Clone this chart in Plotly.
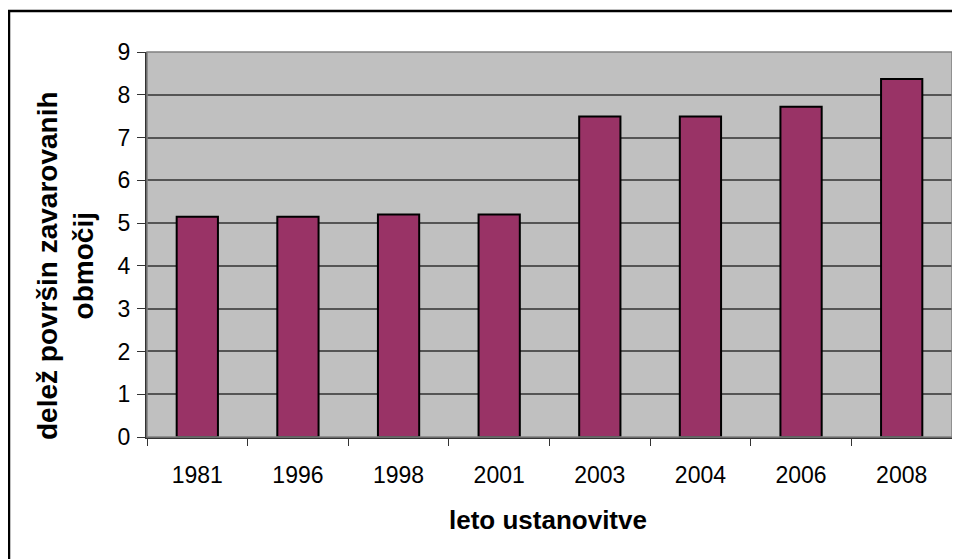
import plotly.graph_objects as go

# ── Data ─────────────────────────────────────────────────────────────────────
years  = ["1981", "1996", "1998", "2001", "2003", "2004", "2006", "2008"]
shares = [5.15, 5.15, 5.2, 5.2, 7.49, 7.49, 7.72, 8.37]
y_ticks = [0, 1, 2, 3, 4, 5, 6, 7, 8, 9]

x_title = "leto ustanovitve"
y_title = "delež površin zavarovanih<br>območij"

# ── Style ────────────────────────────────────────────────────────────────────
_BAR   = "#993366"
_PLOT  = "#C0C0C0"
_GRID  = "#555555"
_FONT  = "Liberation Sans, Arial, sans-serif"

# page body has an 8px margin, so screen px = figure px + 8
_OFF = 8
W, H = 960, 559
L, T = 147 - _OFF, 52 - _OFF
R = W - (952 - _OFF)
B = H - (437 - _OFF)
pw, ph = W - L - R, H - T - B


def px_x(sx):
    return (sx - _OFF - L) / pw


def px_y(sy):
    return (H - B - (sy - _OFF)) / ph


fig = go.Figure(go.Bar(
    x=years,
    y=shares,
    marker=dict(color=_BAR, line=dict(color="black", width=2)),
    hovertemplate="%{x}: %{y}<extra></extra>",
))

fig.update_layout(
    width=W,
    height=H,
    margin=dict(l=L, r=R, t=T, b=B),
    paper_bgcolor="white",
    plot_bgcolor=_PLOT,
    font=dict(family=_FONT, color="black", size=23),
    bargap=0.59,
    showlegend=False,
    xaxis=dict(
        type="category",
        tickson="boundaries",
        ticks="outside",
        ticklen=7,
        tickcolor="#333333",
        tickwidth=1,
        showline=True,
        linecolor="#333333",
        linewidth=2,
        showgrid=False,
        tickfont=dict(size=23),
        ticklabelstandoff=16,
    ),
    yaxis=dict(
        range=[0, 9],
        tickvals=y_ticks,
        ticks="outside",
        ticklen=8,
        tickcolor="#333333",
        tickwidth=1,
        showline=True,
        linecolor="#333333",
        linewidth=2,
        gridcolor=_GRID,
        gridwidth=1.5,
        zeroline=False,
        tickfont=dict(size=23),
        ticklabelstandoff=2,
    ),
    shapes=[
        # plot area border
        dict(type="rect", xref="paper", yref="paper", x0=0, x1=1, y0=0, y1=1,
             line=dict(color="#808080", width=1.5), layer="above"),
        # outer chart border (right and bottom edges fall outside the view)
        dict(type="rect", xref="paper", yref="paper",
             x0=px_x(9), x1=px_x(975), y0=px_y(575), y1=px_y(11),
             line=dict(color="black", width=2.5)),
    ],
    annotations=[
        dict(text=f"<b>{x_title}</b>", xref="paper", yref="paper",
             x=px_x(548), y=px_y(520), xanchor="center", yanchor="middle",
             showarrow=False, font=dict(size=26)),
        dict(text=f"<b>{y_title}</b>", xref="paper", yref="paper",
             x=px_x(65), y=px_y(266), xanchor="center", yanchor="middle",
             textangle=-90, showarrow=False, font=dict(size=28)),
    ],
)

fig.write_html("out.html")
